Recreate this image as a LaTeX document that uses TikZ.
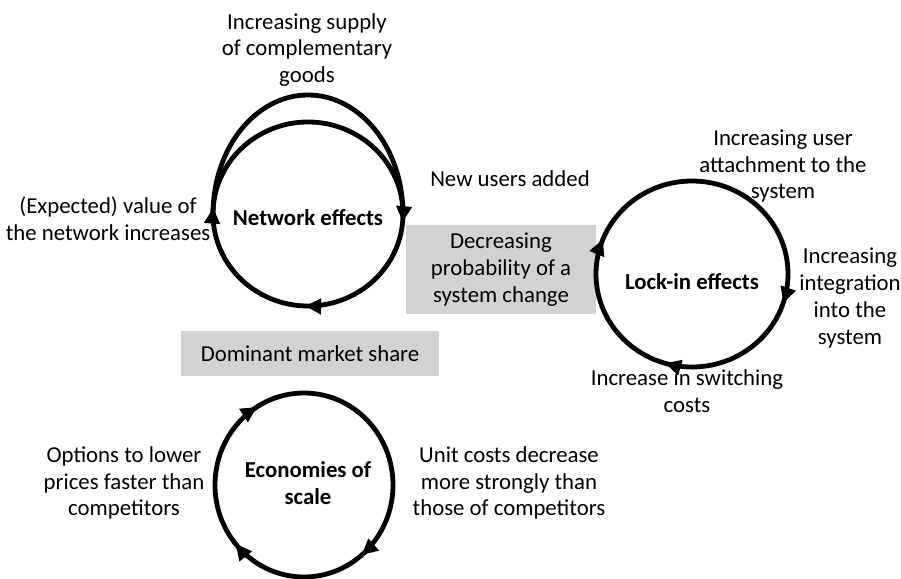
\documentclass[tikz,border=0pt]{standalone}
\usepackage{fontspec}
\setmainfont{Carlito}
\usepackage{tikz}
\usetikzlibrary{arrows.meta, decorations.markings}

\definecolor{boxgray}{RGB}{210,210,210}

\begin{document}
\begin{tikzpicture}[x=0.5pt, y=-0.5pt,
    every node/.style={font=\fontsize{11.4}{13.4}\selectfont, align=center},
    hub/.style={font=\fontsize{11.4}{13.4}\selectfont\bfseries},
    greybox/.style={fill=boxgray, inner sep=0pt},
    loopline/.style={line width=2.4pt},
    looptips/.style n args={3}{postaction={decorate}, decoration={markings,
        mark=at position #1 with {\arrow{Triangle[length=8pt, width=7.5pt]}},
        mark=at position #2 with {\arrow{Triangle[length=8pt, width=7.5pt]}},
        mark=at position #3 with {\arrow{Triangle[length=8pt, width=7.5pt]}}}}]
    \useasboundingbox (0,0) rectangle (901,579);

    % centres of the three cycles
    \coordinate (netc) at (308,214);
    \coordinate (lockc) at (692,274);
    \coordinate (ecoc) at (304,485);

    % grey boxes
    \node[greybox, minimum width=95pt, minimum height=44.5pt] (change) at (501,269.5) {Decreasing\\probability of a\\system change};
    \node[greybox, minimum width=129pt, minimum height=22.5pt] (share) at (310,353.5) {Dominant market share};

    % cycles
    \draw[loopline, looptips={0.014}{0.255}{0.511}] (netc) ellipse [x radius=95, y radius=92];
    \draw[loopline] (213,214) arc[start angle=180, end angle=360, x radius=95, y radius=119];
    \draw[loopline, looptips={0.05}{0.296}{0.56}] (lockc) ellipse [x radius=96, y radius=93];
    \draw[loopline, looptips={0.139}{0.388}{0.6625}] (ecoc) ellipse [x radius=89, y radius=92];

    % network effects
    \node[hub] (net) at (308,218) {Network effects};
    \node (supply) at (307,50) {Increasing supply\\of complementary\\goods};
    \node (value) at (108,219) {(Expected) value of\\the network increases};
    \node (newusers) at (510,179) {New users added};

    % lock-in effects
    \node[hub] (lock) at (692,282) {Lock-in effects};
    \node (attach) at (783,166) {Increasing user\\attachment to the\\system};
    \node (integr) at (850,298) {Increasing\\integration\\into the\\system};
    \node (switching) at (687,391) {Increase in switching\\costs};

    % economies of scale
    \node[hub] (eco) at (308,483) {Economies of\\scale};
    \node (options) at (124,483) {Options to lower\\prices faster than\\competitors};
    \node (unitcost) at (509,483) {Unit costs decrease\\more strongly than\\those of competitors};
\end{tikzpicture}
\end{document}
